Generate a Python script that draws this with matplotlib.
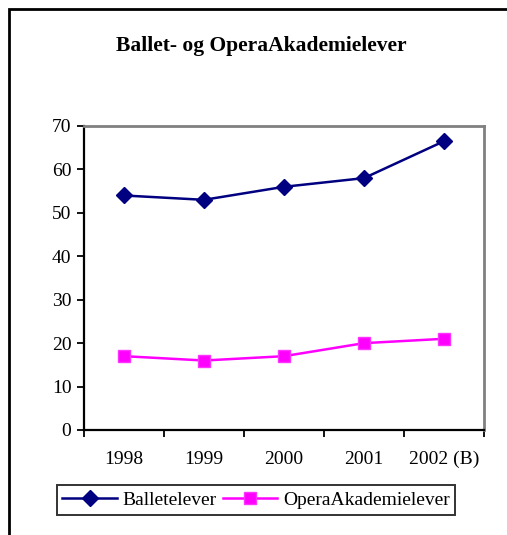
import matplotlib
matplotlib.use('Agg')
import matplotlib.pyplot as plt
from matplotlib.patches import Rectangle

years = ['1998', '1999', '2000', '2001', '2002 (B)']
ballet = [54, 53, 56, 58, 66.5]
opera = [17, 16, 17, 20, 21]

plt.rcParams['font.family'] = ['Liberation Serif', 'DejaVu Serif']

W, H = 507, 535
fig = plt.figure(figsize=(W / 100, H / 100), dpi=100)
ax = fig.add_axes([84 / W, 1 - 430 / H, 400 / W, 304 / H])

x = range(len(years))
ax.plot(x, ballet, color='#000080', marker='D', markersize=8.5, lw=1.8,
        label='Balletelever')
ax.plot(x, opera, color='#FF00FF', marker='s', markersize=8, lw=1.8,
        markerfacecolor='#FF00FF', markeredgecolor='#FF33FF',
        label='OperaAkademielever')

ax.set_xlim(-0.5, len(years) - 0.5)
ax.set_ylim(0, 70)
ax.set_yticks(range(0, 71, 10))
ax.set_xticks(list(x))
ax.set_xticklabels(years)
ax.set_xticks([i - 0.5 for i in range(len(years) + 1)], minor=True)
ax.tick_params(axis='x', which='major', length=0, pad=15, labelsize=14)
ax.tick_params(axis='x', which='minor', length=5, width=1.3, direction='out')
ax.tick_params(axis='y', length=5, width=1.3, direction='out', pad=4,
               labelsize=14)

for s in ['left', 'bottom']:
    ax.spines[s].set_color('black')
    ax.spines[s].set_linewidth(1.6)
for s in ['top', 'right']:
    ax.spines[s].set_color('#808080')
    ax.spines[s].set_linewidth(2)

fig.text(261 / W, 1 - 46 / H, 'Ballet- og OperaAkademielever',
         ha='center', va='center', fontsize=15.5, fontweight='bold')

leg = fig.legend(loc='center', bbox_to_anchor=(256 / W, 1 - 500 / H), ncol=2,
                 fontsize=14, frameon=True, fancybox=False, edgecolor='black',
                 handlelength=2.8, columnspacing=0.3, handletextpad=0.3,
                 borderpad=0.3, borderaxespad=0)
leg.get_frame().set_linewidth(1.4)

fig.patches.append(Rectangle((9 / W, -0.1), 1.2, 1 - 9 / H + 0.1,
                             transform=fig.transFigure, fill=False,
                             edgecolor='black', linewidth=2))

fig.savefig('out.png', dpi=100)
